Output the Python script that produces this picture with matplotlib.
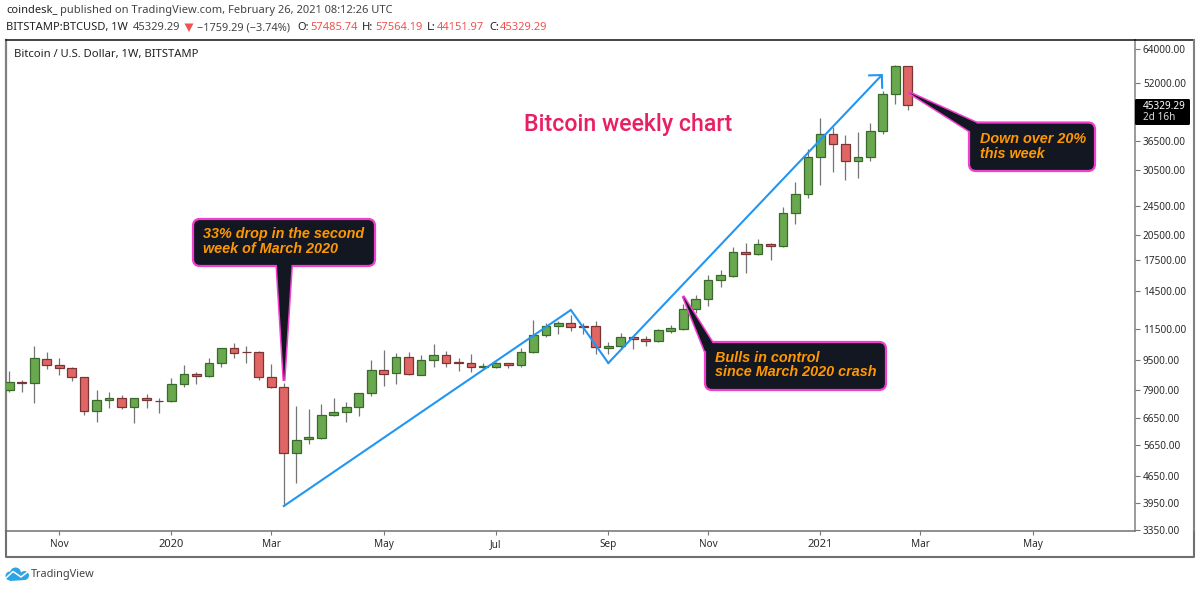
import matplotlib
matplotlib.use('Agg')
import matplotlib.pyplot as plt
import matplotlib.dates as mdates
from matplotlib.patches import Circle, FancyBboxPatch, Polygon
import pandas as pd

# weekly BTCUSD candles
dates = pd.date_range('2019-10-07', periods=73, freq='W-MON')
opens = [7886, 8297, 8230, 9537, 9188, 9025, 8539, 6932, 7416, 7535,
         7125, 7535, 7385, 7371, 8178, 8694, 8590, 9323, 10203, 9960,
         9975, 8539, 8032, 5378, 5840, 5885, 6787, 6915, 7125, 7745,
         8915, 8750, 9655, 8675, 9480, 9780, 9365, 9306, 9100, 9081,
         9306, 9225, 9955, 11066, 11696, 11915, 11696, 11696, 10240, 10346,
         10935, 10800, 10650, 11370, 11505, 13010, 13780, 15490, 15930, 18420,
         18160, 19380, 19140, 23445, 26240, 32930, 37910, 35680, 32195, 33000,
         38700, 48450, 57485.74]
highs = [8861, 8400, 10346, 9975, 9613, 9081, 8539, 7901, 7805, 7673,
         7508, 7711, 7508, 8488, 9205, 8822, 9596, 10203, 10520, 10346,
         10018, 9247, 8230, 7157, 7018, 7250, 7508, 7326, 7770, 9497,
         10098, 9930, 9975, 9780, 10460, 10036, 9596, 9840, 9306, 9400,
         9340, 10203, 12138, 11937, 12040, 12520, 11890, 12085, 10605, 11185,
         10955, 11000, 11465, 11770, 13380, 14150, 15990, 16496, 19030, 19500,
         19910, 19500, 24270, 28300, 34590, 41830, 39750, 37730, 38540, 40690,
         49560, 58100, 57564.19]
lows = [7790, 7819, 7307, 8970, 8674, 8364, 6787, 6505, 7079, 7018,
        6440, 7053, 6872, 7340, 8032, 8210, 8555, 9081, 9613, 9306,
        8415, 8013, 3876, 4457, 5682, 5860, 6745, 6480, 6745, 7635,
        8120, 8178, 8675, 8640, 9112, 9081, 8895, 8822, 8970, 9050,
        9025, 9112, 9930, 10954, 11120, 11370, 11120, 9850, 9850, 10203,
        10140, 10370, 10605, 11185, 11416, 12650, 13230, 14830, 15835, 16225,
        18115, 17539, 18950, 21900, 25725, 27700, 30150, 28652, 29060, 32250,
        37910, 45660, 44151.97]
closes = [8281, 8230, 9596, 9205, 9025, 8539, 6932, 7416, 7535, 7125,
          7508, 7416, 7371, 8178, 8694, 8606, 9340, 10203, 9912, 9950,
          8539, 8032, 5358, 5825, 5910, 6787, 6915, 7125, 7745, 8915,
          8730, 9655, 8715, 9480, 9780, 9340, 9306, 9112, 9140, 9306,
          9225, 9955, 11066, 11696, 11915, 11646, 11646, 10265, 10325, 10935,
          10800, 10650, 11395, 11535, 12970, 13780, 15514, 15965, 18390, 18160,
          19380, 19140, 23445, 26240, 32930, 37910, 35730, 32195, 33000, 38700,
          48450, 57485, 45329.29]

price_ticks = [64000, 52000, 36500, 30500, 24500, 20500, 17500, 14500, 11500,
               9500, 7900, 6650, 5650, 4650, 3950, 3350]
month_ticks = ['2019-11-04', '2020-01-06', '2020-03-02', '2020-05-04', '2020-07-06',
               '2020-09-07', '2020-11-02', '2021-01-04', '2021-03-01', '2021-05-03']
month_labels = ['Nov', '2020', 'Mar', 'May', 'Jul', 'Sep', 'Nov', '2021', 'Mar', 'May']

# blue trend line turning points
trend_dates = ['2020-03-09', '2020-08-17', '2020-09-07', '2021-02-08']
trend_prices = [3876, 12906, 9320, 54900]

GREEN = '#6aa84f'
RED = '#e06666'
TEXT = '#2a2a2a'
FONT = 'Noto Sans'

W, H = 1200, 590
plt.rcParams['font.family'] = FONT
fig = plt.figure(figsize=(12, 5.9), dpi=100)

# main pane, pixel box 6..1135 x 40..531
ax = fig.add_axes([6 / W, 1 - 531.3 / H, (1134.7 - 6) / W, (531.3 - 40) / H])
x = mdates.date2num(dates)
step = x[1] - x[0]

for xi, o, h, l, c in zip(x, opens, highs, lows, closes):
    up = c >= o
    face = GREEN if up else RED
    edge = '#3a6a2b' if up else '#7a3434'
    ax.plot([xi, xi], [l, h], color='#757575', lw=0.9, zorder=2, solid_capstyle='butt')
    ax.bar(xi, abs(c - o), bottom=min(o, c), width=step * 0.70, color=face,
           edgecolor=edge, linewidth=0.9, zorder=3)

ax.set_yscale('log')
ax.set_ylim(3320, 67630)
ax.set_xlim(x[0] - 0.26 * step, x[0] + 90.18 * step)

ax.yaxis.tick_right()
ax.yaxis.set_major_locator(plt.FixedLocator(price_ticks))
ax.yaxis.set_major_formatter(plt.FuncFormatter(lambda v, p: f'{v:.2f}'))
ax.yaxis.set_minor_locator(plt.NullLocator())
ax.xaxis.set_minor_locator(plt.NullLocator())
ax.tick_params(axis='y', length=3.4, width=0.8, color='#777777', labelcolor=TEXT,
               labelsize=7.2, pad=2.5)
ax.tick_params(axis='x', length=2.9, width=0.8, color='#777777', labelcolor=TEXT,
               labelsize=7.2, pad=2.7)
ax.set_xticks(mdates.date2num(pd.to_datetime(month_ticks)))
xlabs = ax.set_xticklabels(month_labels)
for lab, name in zip(xlabs, month_labels):
    if name.startswith('20'):
        lab.set_fontweight(700)
        lab.set_fontsize(8)
ax.spines['top'].set_color('#222222')
ax.spines['top'].set_linewidth(1.2)
ax.spines['left'].set_color('#808080')
ax.spines['left'].set_linewidth(1.6)
ax.spines['right'].set_color('#808080')
ax.spines['right'].set_linewidth(1.1)
ax.spines['bottom'].set_color('#707070')
ax.spines['bottom'].set_linewidth(1.1)

# blue zigzag with arrow head on the last leg
td = mdates.date2num(pd.to_datetime(trend_dates))
ax.plot(td[:3], trend_prices[:3], color='#2196f3', lw=1.5, zorder=5, solid_joinstyle='miter')
ax.annotate('', xy=(td[3], trend_prices[3]), xytext=(td[2], trend_prices[2]),
            arrowprops=dict(arrowstyle='->,head_length=0.66,head_width=0.66', color='#2196f3',
                            lw=1.5, shrinkA=0, shrinkB=0, mutation_scale=10), zorder=5)

# overlay in pixel coordinates for frame, callouts and header
ov = fig.add_axes([0, 0, 1, 1], facecolor='none')
ov.set_xlim(0, W)
ov.set_ylim(H, 0)
ov.axis('off')

# outer frame below the time scale
ov.plot([6, 6, 1194, 1194], [531, 557, 557, 531], color='#707070', lw=1.5)
ov.plot([1134.7, 1194], [40, 40], color='#222222', lw=1.2)
ov.plot([1194, 1194], [40, 531], color='#808080', lw=1.5)


def callout(box, tail, lines):
    x0, y0, x1, y1 = box
    pink = '#f23fd0'
    dark = '#131722'
    ov.add_patch(Polygon(tail, closed=True, fc=dark, ec=pink, lw=2.2, zorder=6, joinstyle='miter'))
    ov.add_patch(FancyBboxPatch((x0 + 7, y0 + 7), x1 - x0 - 14, y1 - y0 - 14,
                                boxstyle='round,pad=7,rounding_size=7', fc=dark, ec=pink,
                                lw=1.6, zorder=7))
    ov.add_patch(Polygon(tail, closed=True, fc=dark, ec='none', zorder=8))
    for tx, ty, s in lines:
        ov.text(tx, ty, s, color='#ff9800', fontsize=10.35, fontfamily='Liberation Sans',
                fontweight='bold', fontstyle='italic', va='center', ha='left', zorder=9)


callout((193, 219, 375, 266), [(276.7, 262), (291.7, 262), (284, 381)],
        [(203, 234, '33% drop in the second'), (203, 249, 'week of March 2020')])
callout((705, 342, 886, 390), [(683, 296), (712.5, 343), (712, 352), (705, 351)],
        [(715, 358, 'Bulls in control'), (715, 372.5, 'since March 2020 crash')])
callout((969, 122.5, 1095, 171), [(908.5, 92.3), (976.5, 123), (977, 132), (969.5, 131)],
        [(980, 139, 'Down over 20%'), (980, 154, 'this week')])

ov.text(524, 125, 'Bitcoin weekly chart', color='#e91e63', fontsize=16.7, fontfamily='Roboto',
        fontweight='medium', va='center', ha='left', zorder=9)
ov.text(14, 54, 'Bitcoin / U.S. Dollar, 1W, BITSTAMP', color='#222222', fontsize=8.1,
        fontweight='bold', va='center', ha='left', zorder=9)

# last price tag on the scale
ov.add_patch(FancyBboxPatch((1135, 99), 55, 26, boxstyle='round,pad=0,rounding_size=1.5',
                            fc='black', ec='none', zorder=6))
ov.text(1143, 106.5, '45329.29', color='white', fontsize=7.2, va='center', ha='left', zorder=9)
ov.text(1143, 118, '2d 16h', color='#dddddd', fontsize=7.2, va='center', ha='left', zorder=9)

# header lines
ov.text(6, 10, 'coindesk_', color='#222222', fontsize=8.0, fontweight='bold', va='center')
ov.text(60, 10, 'published on TradingView.com, February 26, 2021 08:12:26 UTC', color='#444444',
        fontsize=8.0, va='center')
ov.text(6, 27.5, 'BITSTAMP:BTCUSD, 1W', color='#222222', fontsize=8.0, fontweight='bold', va='center')
ov.text(133, 27.5, '45329.29', color='#444444', fontsize=8.0, va='center')
ov.add_patch(Polygon([(184.5, 23.5), (193.5, 23.5), (189, 32)], closed=True, fc='#ef5350', ec='none'))
ov.text(197, 27.5, '\u22121759.29 (\u22123.74%)', color='#444444', fontsize=7.9, va='center')
for lx, ll, vx, vv in [(297, 'O:', 310, '57485.74'), (362, 'H:', 375, '57564.19'),
                       (427, 'L:', 437, '44151.97'), (489, 'C:', 500, '45329.29')]:
    ov.text(lx, 27.5, ll, color='#222222', fontsize=8.0, fontweight='bold', va='center')
    ov.text(vx, 27.5, vv, color='#ef5350', fontsize=8.0, va='center')

# TradingView logo
blue = '#2ca5e2'
ov.add_patch(Circle((10, 576), 4.5, fc=blue, ec='none', zorder=3))
ov.add_patch(Circle((15.5, 573), 5.5, fc=blue, ec='none', zorder=3))
ov.add_patch(Circle((24.5, 575.5), 4.5, fc=blue, ec='none', zorder=3))
ov.add_patch(Polygon([(10, 580.5), (10, 574), (25, 574), (25, 580)], closed=True, fc=blue, ec='none', zorder=3))
ov.plot([6.5, 13, 21, 27.5], [577.5, 571.5, 577, 572], color='white', lw=1.1, zorder=4)
ov.text(31, 574, 'TradingView', color='#444444', fontsize=7.9, va='center')

fig.savefig('out.png', dpi=100)
